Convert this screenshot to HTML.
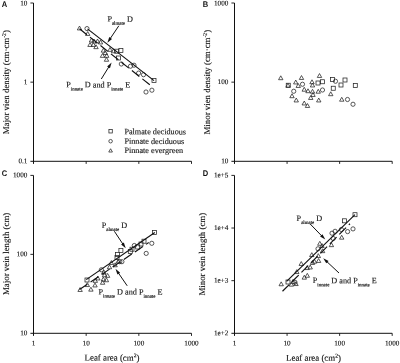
<!DOCTYPE html>
<html lang="en"><head><meta charset="utf-8"><title>Vein density and vein length versus leaf area</title>
<style>
html,body{margin:0;padding:0;background:#fff;}
body{width:400px;height:363px;overflow:hidden;}
svg{display:block;}
text{font-family:"Liberation Serif",serif;fill:#111;stroke:#111;stroke-width:0.12px;text-rendering:geometricPrecision;}
.tk{font-size:7.2px;}
.ax{font-size:8.85px;}
.an{font-size:8.2px;}
.lg{font-size:8.2px;}
.sb{font-size:4.9px;stroke:#222;stroke-width:0.2px;}
.sp{font-size:5.6px;}
.pl{font-family:"Liberation Sans",sans-serif;font-weight:bold;font-size:8.2px;fill:#111;stroke:none;}
</style></head><body>
<svg width="400" height="363" viewBox="0 0 400 363">
<rect width="400" height="363" fill="#fff"/>
<text class="pl" transform="translate(1.8 6.6) scale(0.92 1)">A</text>
<text class="pl" transform="translate(202.8 6.6) scale(0.92 1)">B</text>
<text class="pl" transform="translate(1.8 176.2) scale(0.92 1)">C</text>
<text class="pl" transform="translate(202.8 176.2) scale(0.92 1)">D</text>
<path d="M33.5 3.0V163.9M30.4 161.3H191.5" fill="none" stroke="#111" stroke-width="1.0"/>
<text class="tk" transform="rotate(0.2 27.4 5.50)" x="27.4" y="5.50" text-anchor="end">10</text>
<text class="tk" transform="rotate(0.2 27.4 84.15)" x="27.4" y="84.15" text-anchor="end">1</text>
<text class="tk" transform="rotate(0.2 27.4 163.30)" x="27.4" y="163.30" text-anchor="end">0.1</text>
<path d="M30.4 3.00H33.5 M30.4 82.15H33.5 M86.17 161.3V163.9 M138.83 161.3V163.9 M191.50 161.3V163.9" fill="none" stroke="#111" stroke-width="0.9"/>
<text class="ax" transform="translate(9.4 82.2) rotate(-90)" text-anchor="middle">Major vien density (cm·cm<tspan class="sp" dy="-3.4">-2</tspan><tspan dy="3.4">)</tspan></text>
<g fill="none" stroke="#222" stroke-width="0.75" stroke-linejoin="miter">
<path d="M79.50 26.05L81.70 29.95H77.30Z"/>
<path d="M87.70 31.55L89.90 35.45H85.50Z"/>
<path d="M91.50 38.05L93.70 41.95H89.30Z"/>
<path d="M94.00 39.05L96.20 42.95H91.80Z"/>
<path d="M90.00 42.55L92.20 46.45H87.80Z"/>
<path d="M93.40 42.55L95.60 46.45H91.20Z"/>
<path d="M96.00 44.75L98.20 48.65H93.80Z"/>
<path d="M97.50 39.05L99.70 42.95H95.30Z"/>
<path d="M100.50 40.05L102.70 43.95H98.30Z"/>
<path d="M103.40 48.25L105.60 52.15H101.20Z"/>
<path d="M102.50 53.45L104.70 57.35H100.30Z"/>
<path d="M106.70 53.45L108.90 57.35H104.50Z"/>
<path d="M106.50 57.35L108.70 61.25H104.30Z"/>
<path d="M110.00 47.45L112.20 51.35H107.80Z"/>
<path d="M113.50 48.85L115.70 52.75H111.30Z"/>
<path d="M105.30 50.65L107.50 54.55H103.10Z"/>
<circle cx="87.00" cy="28.60" r="2.1"/>
<circle cx="121.30" cy="64.00" r="2.1"/>
<circle cx="130.50" cy="66.20" r="2.1"/>
<circle cx="134.00" cy="65.20" r="2.1"/>
<circle cx="138.60" cy="73.10" r="2.1"/>
<circle cx="143.50" cy="74.70" r="2.1"/>
<circle cx="146.00" cy="92.00" r="2.1"/>
<circle cx="151.90" cy="90.20" r="2.1"/>
<rect x="114.70" y="49.20" width="4.0" height="4.0"/>
<rect x="118.90" y="48.50" width="4.0" height="4.0"/>
<rect x="116.60" y="56.00" width="4.0" height="4.0"/>
<rect x="152.00" y="78.60" width="4.0" height="4.0"/>
</g>
<line x1="87.5" y1="28.9" x2="154" y2="80.6" stroke="#111" stroke-width="1.15"/>
<line x1="79.5" y1="28.8" x2="149.8" y2="84.8" stroke="#111" stroke-width="1.15" stroke-dasharray="9.5 3.9"/>
<text class="an" transform="rotate(0.2 107.4 21.6)" x="107.4" y="21.6">P<tspan class="sb" dy="3.1">almate</tspan><tspan dy="-3.1"> D</tspan></text>
<line x1="118.80" y1="25.80" x2="110.07" y2="38.81" stroke="#111" stroke-width="1.0"/>
<path d="M107.40 42.80L109.26 37.06L112.00 38.90Z" fill="#111"/>
<text class="an" transform="rotate(0.2 66.3 87.3)" x="66.3" y="87.3">P<tspan class="sb" dy="3.1">innate</tspan><tspan dy="-3.1"> D and P</tspan><tspan class="sb" dy="3.1">innate</tspan><tspan dy="-3.1"> E</tspan></text>
<line x1="101.30" y1="79.00" x2="109.07" y2="66.48" stroke="#111" stroke-width="1.0"/>
<path d="M111.60 62.40L109.94 68.20L107.14 66.46Z" fill="#111"/>
<g fill="none" stroke="#222" stroke-width="0.75" stroke-linejoin="miter">
<path d="M110.60 148.76L112.45 152.04H108.75Z"/>
<circle cx="110.60" cy="141.20" r="1.76"/>
<rect x="108.92" y="129.62" width="3.36" height="3.36"/>
</g>
<text class="lg" transform="rotate(0.2 124.4 134.2)" x="124.4" y="134.2">Palmate deciduous</text>
<text class="lg" transform="rotate(0.2 124.4 143.8)" x="124.4" y="143.8">Pinnate deciduous</text>
<text class="lg" transform="rotate(0.2 124.4 152.9)" x="124.4" y="152.9">Pinnate evergreen</text>
<path d="M234.5 3.0V163.9M231.4 161.3H392.2" fill="none" stroke="#111" stroke-width="1.0"/>
<text class="tk" transform="rotate(0.2 228.4 5.50)" x="228.4" y="5.50" text-anchor="end">1000</text>
<text class="tk" transform="rotate(0.2 228.4 84.15)" x="228.4" y="84.15" text-anchor="end">100</text>
<text class="tk" transform="rotate(0.2 228.4 163.30)" x="228.4" y="163.30" text-anchor="end">10</text>
<path d="M231.4 3.00H234.5 M231.4 82.15H234.5 M287.07 161.3V163.9 M339.63 161.3V163.9 M392.20 161.3V163.9" fill="none" stroke="#111" stroke-width="0.9"/>
<text class="ax" transform="translate(210.2 82.2) rotate(-90)" text-anchor="middle">Minor vien density (cm·cm<tspan class="sp" dy="-3.4">-2</tspan><tspan dy="3.4">)</tspan></text>
<g fill="none" stroke="#222" stroke-width="0.75" stroke-linejoin="miter">
<path d="M280.75 75.80L282.95 79.70H278.55Z"/>
<path d="M288.00 83.30L290.20 87.20H285.80Z"/>
<path d="M295.75 80.05L297.95 83.95H293.55Z"/>
<path d="M301.50 75.55L303.70 79.45H299.30Z"/>
<path d="M298.25 83.55L300.45 87.45H296.05Z"/>
<path d="M292.00 93.80L294.20 97.70H289.80Z"/>
<path d="M296.25 98.05L298.45 101.95H294.05Z"/>
<path d="M304.25 87.30L306.45 91.20H302.05Z"/>
<path d="M308.00 88.80L310.20 92.70H305.80Z"/>
<path d="M312.50 89.30L314.70 93.20H310.30Z"/>
<path d="M312.00 79.80L314.20 83.70H309.80Z"/>
<path d="M312.50 83.05L314.70 86.95H310.30Z"/>
<path d="M319.50 73.55L321.70 77.45H317.30Z"/>
<path d="M318.25 89.30L320.45 93.20H316.05Z"/>
<path d="M313.00 92.55L315.20 96.45H310.80Z"/>
<path d="M310.75 95.55L312.95 99.45H308.55Z"/>
<path d="M318.75 98.05L320.95 101.95H316.55Z"/>
<path d="M304.25 101.05L306.45 104.95H302.05Z"/>
<path d="M307.50 103.55L309.70 107.45H305.30Z"/>
<path d="M330.75 91.80L332.95 95.70H328.55Z"/>
<path d="M341.75 97.30L343.95 101.20H339.55Z"/>
<circle cx="293.75" cy="91.25" r="2.1"/>
<circle cx="302.50" cy="84.25" r="2.1"/>
<circle cx="322.50" cy="90.00" r="2.1"/>
<circle cx="335.50" cy="81.25" r="2.1"/>
<circle cx="347.50" cy="99.50" r="2.1"/>
<circle cx="353.00" cy="104.25" r="2.1"/>
<rect x="286.25" y="83.25" width="4.0" height="4.0"/>
<rect x="316.00" y="81.00" width="4.0" height="4.0"/>
<rect x="320.50" y="79.75" width="4.0" height="4.0"/>
<rect x="330.50" y="77.50" width="4.0" height="4.0"/>
<rect x="331.25" y="86.25" width="4.0" height="4.0"/>
<rect x="339.00" y="83.00" width="4.0" height="4.0"/>
<rect x="343.00" y="78.00" width="4.0" height="4.0"/>
<rect x="353.30" y="83.50" width="4.0" height="4.0"/>
</g>
<path d="M33.5 175.4V335.90000000000003M30.4 333.3H191.5" fill="none" stroke="#111" stroke-width="1.0"/>
<text class="tk" transform="rotate(0.2 27.4 177.40)" x="27.4" y="177.40" text-anchor="end">1000</text>
<text class="tk" transform="rotate(0.2 27.4 256.35)" x="27.4" y="256.35" text-anchor="end">100</text>
<text class="tk" transform="rotate(0.2 27.4 335.30)" x="27.4" y="335.30" text-anchor="end">10</text>
<path d="M30.4 175.40H33.5 M30.4 254.35H33.5 M86.17 333.3V335.90000000000003 M138.83 333.3V335.90000000000003 M191.50 333.3V335.90000000000003" fill="none" stroke="#111" stroke-width="0.9"/>
<text class="tk" transform="rotate(0.2 33.50 345.60)" x="33.50" y="345.60" text-anchor="middle">1</text>
<text class="tk" transform="rotate(0.2 86.17 345.60)" x="86.17" y="345.60" text-anchor="middle">10</text>
<text class="tk" transform="rotate(0.2 138.83 345.60)" x="138.83" y="345.60" text-anchor="middle">100</text>
<text class="tk" transform="rotate(0.2 191.50 345.60)" x="191.50" y="345.60" text-anchor="middle">1000</text>
<text class="ax" transform="translate(9.4 253.9) rotate(-90)" text-anchor="middle">Major vein length (cm)</text>
<g fill="none" stroke="#222" stroke-width="0.75" stroke-linejoin="miter">
<path d="M80.10 287.55L82.30 291.45H77.90Z"/>
<path d="M87.30 282.65L89.50 286.55H85.10Z"/>
<path d="M90.90 287.25L93.10 291.15H88.70Z"/>
<path d="M95.00 283.05L97.20 286.95H92.80Z"/>
<path d="M95.30 278.45L97.50 282.35H93.10Z"/>
<path d="M97.80 276.05L100.00 279.95H95.60Z"/>
<path d="M102.60 280.35L104.80 284.25H100.40Z"/>
<path d="M103.30 277.15L105.50 281.05H101.10Z"/>
<path d="M106.40 277.85L108.60 281.75H104.20Z"/>
<path d="M107.60 273.45L109.80 277.35H105.40Z"/>
<path d="M104.50 272.85L106.70 276.75H102.30Z"/>
<path d="M103.90 270.05L106.10 273.95H101.70Z"/>
<path d="M111.40 260.55L113.60 264.45H109.20Z"/>
<path d="M109.50 264.85L111.70 268.75H107.30Z"/>
<path d="M115.10 262.85L117.30 266.75H112.90Z"/>
<path d="M118.20 259.25L120.40 263.15H116.00Z"/>
<circle cx="151.80" cy="243.30" r="2.1"/>
<circle cx="146.20" cy="253.40" r="2.1"/>
<circle cx="134.30" cy="245.50" r="2.1"/>
<circle cx="121.90" cy="261.70" r="2.1"/>
<circle cx="119.80" cy="261.70" r="2.1"/>
<circle cx="101.40" cy="269.80" r="2.1"/>
<rect x="152.50" y="230.60" width="4.0" height="4.0"/>
<rect x="142.00" y="239.20" width="4.0" height="4.0"/>
<rect x="139.00" y="242.00" width="4.0" height="4.0"/>
<rect x="135.70" y="245.00" width="4.0" height="4.0"/>
<rect x="130.00" y="247.20" width="4.0" height="4.0"/>
<rect x="128.30" y="249.60" width="4.0" height="4.0"/>
<rect x="118.90" y="248.50" width="4.0" height="4.0"/>
<rect x="115.50" y="252.60" width="4.0" height="4.0"/>
<rect x="115.00" y="255.60" width="4.0" height="4.0"/>
<rect x="85.00" y="278.00" width="4.0" height="4.0"/>
</g>
<line x1="86.25" y1="279.6" x2="154.8" y2="232.5" stroke="#111" stroke-width="1.15"/>
<line x1="79.5" y1="289.5" x2="148.7" y2="242.6" stroke="#111" stroke-width="1.15" stroke-dasharray="9.5 3.9"/>
<text class="an" transform="rotate(0.2 101.7 227.9)" x="101.7" y="227.9">P<tspan class="sb" dy="3.1">almate</tspan><tspan dy="-3.1"> D</tspan></text>
<line x1="114.40" y1="231.30" x2="123.04" y2="244.30" stroke="#111" stroke-width="1.0"/>
<path d="M125.70 248.30L121.12 244.38L123.86 242.56Z" fill="#111"/>
<text class="an" transform="rotate(0.2 98.5 294.5)" x="98.5" y="294.5">P<tspan class="sb" dy="3.1">innate</tspan><tspan dy="-3.1"> D and P</tspan><tspan class="sb" dy="3.1">innate</tspan><tspan dy="-3.1"> E</tspan></text>
<line x1="127.20" y1="285.80" x2="118.22" y2="272.75" stroke="#111" stroke-width="1.0"/>
<path d="M115.50 268.80L120.15 272.64L117.43 274.51Z" fill="#111"/>
<text class="ax" transform="rotate(0.2 112.0 360.6)" x="112.0" y="360.6" text-anchor="middle">Leaf area (cm<tspan class="sp" dy="-3.4">2</tspan><tspan dy="3.4">)</tspan></text>
<path d="M234.5 175.4V335.90000000000003M231.4 333.3H392.2" fill="none" stroke="#111" stroke-width="1.0"/>
<text class="tk" transform="rotate(0.2 228.4 177.40)" x="228.4" y="177.40" text-anchor="end">1e+5</text>
<text class="tk" transform="rotate(0.2 228.4 230.03)" x="228.4" y="230.03" text-anchor="end">1e+4</text>
<text class="tk" transform="rotate(0.2 228.4 282.67)" x="228.4" y="282.67" text-anchor="end">1e+3</text>
<text class="tk" transform="rotate(0.2 228.4 335.30)" x="228.4" y="335.30" text-anchor="end">1e+2</text>
<path d="M231.4 175.40H234.5 M231.4 228.03H234.5 M231.4 280.67H234.5 M287.07 333.3V335.90000000000003 M339.63 333.3V335.90000000000003 M392.20 333.3V335.90000000000003" fill="none" stroke="#111" stroke-width="0.9"/>
<text class="tk" transform="rotate(0.2 234.50 345.60)" x="234.50" y="345.60" text-anchor="middle">1</text>
<text class="tk" transform="rotate(0.2 287.07 345.60)" x="287.07" y="345.60" text-anchor="middle">10</text>
<text class="tk" transform="rotate(0.2 339.63 345.60)" x="339.63" y="345.60" text-anchor="middle">100</text>
<text class="tk" transform="rotate(0.2 392.20 345.60)" x="392.20" y="345.60" text-anchor="middle">1000</text>
<text class="ax" transform="translate(205.3 254.2) rotate(-90)" text-anchor="middle">Minor vein length (cm)</text>
<g fill="none" stroke="#222" stroke-width="0.75" stroke-linejoin="miter">
<path d="M341.70 235.25L343.90 239.15H339.50Z"/>
<path d="M331.40 242.75L333.60 246.65H329.20Z"/>
<path d="M319.80 241.35L322.00 245.25H317.60Z"/>
<path d="M322.00 243.55L324.20 247.45H319.80Z"/>
<path d="M322.60 248.75L324.80 252.65H320.40Z"/>
<path d="M311.80 252.65L314.00 256.55H309.60Z"/>
<path d="M318.30 253.65L320.50 257.55H316.10Z"/>
<path d="M318.60 258.55L320.80 262.45H316.40Z"/>
<path d="M314.50 259.30L316.70 263.20H312.30Z"/>
<path d="M301.25 261.55L303.45 265.45H299.05Z"/>
<path d="M307.20 265.65L309.40 269.55H305.00Z"/>
<path d="M310.20 265.05L312.40 268.95H308.00Z"/>
<path d="M312.50 260.55L314.70 264.45H310.30Z"/>
<path d="M296.80 269.65L299.00 273.55H294.60Z"/>
<path d="M304.30 275.25L306.50 279.15H302.10Z"/>
<path d="M307.30 273.35L309.50 277.25H305.10Z"/>
<path d="M281.20 281.85L283.40 285.75H279.00Z"/>
<path d="M291.40 282.25L293.60 286.15H289.20Z"/>
<path d="M296.00 281.65L298.20 285.55H293.80Z"/>
<path d="M293.00 279.45L295.20 283.35H290.80Z"/>
<circle cx="353.00" cy="228.90" r="2.1"/>
<circle cx="347.60" cy="231.60" r="2.1"/>
<circle cx="341.40" cy="229.50" r="2.1"/>
<circle cx="335.10" cy="231.30" r="2.1"/>
<circle cx="332.00" cy="233.20" r="2.1"/>
<circle cx="333.20" cy="238.50" r="2.1"/>
<circle cx="318.00" cy="248.80" r="2.1"/>
<circle cx="295.00" cy="282.30" r="2.1"/>
<rect x="353.00" y="212.70" width="4.0" height="4.0"/>
<rect x="342.60" y="218.80" width="4.0" height="4.0"/>
<rect x="286.00" y="280.00" width="4.0" height="4.0"/>
</g>
<line x1="286.6" y1="281.4" x2="355" y2="214.7" stroke="#111" stroke-width="1.15"/>
<line x1="282.5" y1="291.25" x2="350" y2="223.75" stroke="#111" stroke-width="1.15" stroke-dasharray="9.5 3.9"/>
<text class="an" transform="rotate(0.2 296.6 220.9)" x="296.6" y="220.9">P<tspan class="sb" dy="3.1">almate</tspan><tspan dy="-3.1"> D</tspan></text>
<line x1="310.20" y1="224.00" x2="321.96" y2="236.15" stroke="#111" stroke-width="1.0"/>
<path d="M325.30 239.60L320.08 236.58L322.45 234.28Z" fill="#111"/>
<text class="an" transform="rotate(0.2 312.8 283.1)" x="312.8" y="283.1">P<tspan class="sb" dy="3.1">innate</tspan><tspan dy="-3.1"> D and P</tspan><tspan class="sb" dy="3.1">innate</tspan><tspan dy="-3.1"> E</tspan></text>
<line x1="339.00" y1="273.00" x2="326.70" y2="261.48" stroke="#111" stroke-width="1.0"/>
<path d="M323.20 258.20L328.56 260.96L326.30 263.37Z" fill="#111"/>
<text class="ax" transform="rotate(0.2 313.5 360.8)" x="313.5" y="360.8" text-anchor="middle">Leaf area (cm<tspan class="sp" dy="-3.4">2</tspan><tspan dy="3.4">)</tspan></text>
</svg>
</body></html>
